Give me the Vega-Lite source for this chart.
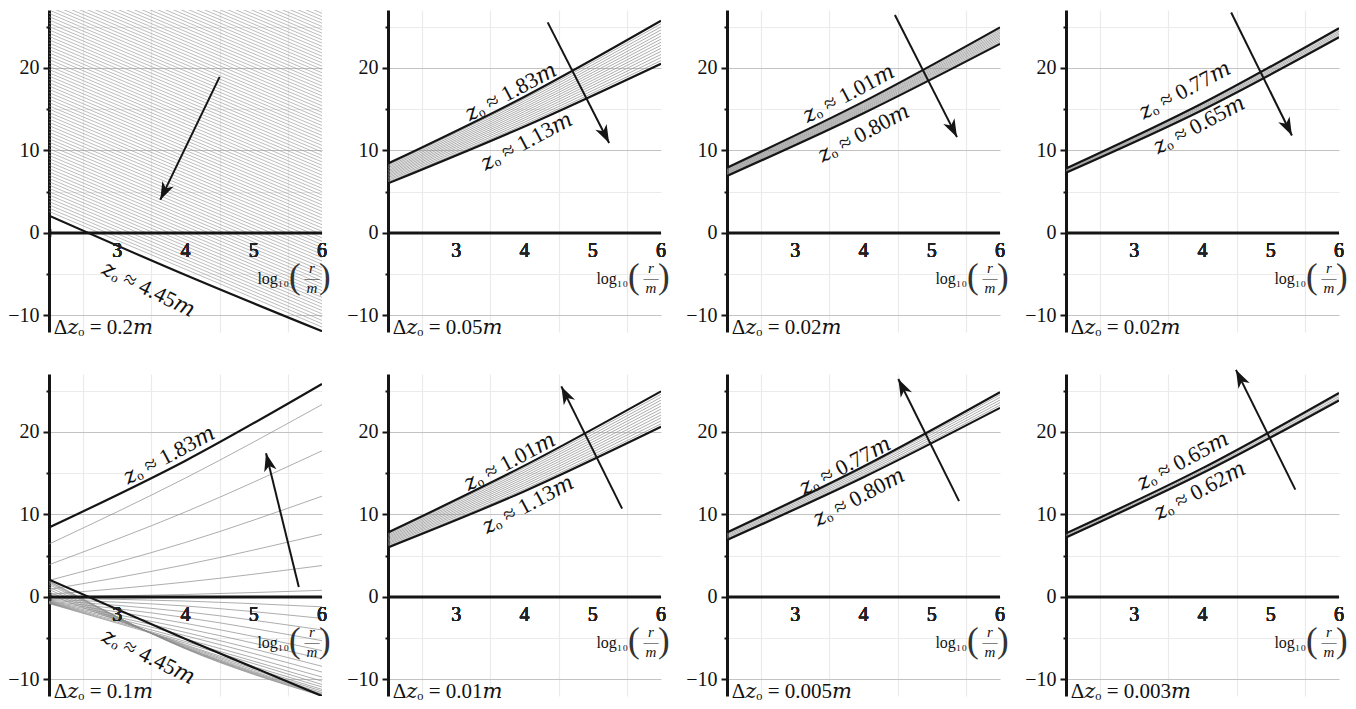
{
  "$schema": "https://vega.github.io/schema/vega-lite/v6.json",
  "background": "white",
  "padding": {"left": 7, "top": 10, "right": 5, "bottom": 5},
  "bounds": "flush",
  "columns": 4,
  "spacing": {"row": 42, "column": 66},
  "config": {
    "view": {"stroke": null},
    "font": "'Liberation Serif', 'DejaVu Serif', serif",
    "header": {"labels": false, "labelFontSize": 0, "labelPadding": 0, "labelColor": "transparent", "title": null},
    "axis": {"labelFont": "'Liberation Serif', 'DejaVu Serif', serif", "labelFontSize": 20, "labelColor": "#111"}
  },
  "data": {"values": [
    {"p":1,"kind":"bound","l":"a","x":2,"y":2.1},{"p":1,"kind":"bound","l":"a","x":4,"y":-5.1},{"p":1,"kind":"bound","l":"a","x":6,"y":-11.9},
    {"p":1,"kind":"hatch","x":2,"y":2.6,"x2":6,"y2":-11.4},{"p":1,"kind":"hatch","x":2,"y":3.0,"x2":6,"y2":-11.0},{"p":1,"kind":"hatch","x":2,"y":3.4,"x2":6,"y2":-10.6},{"p":1,"kind":"hatch","x":2,"y":3.8,"x2":6,"y2":-10.2},
    {"p":1,"kind":"hatch","x":2,"y":4.2,"x2":6,"y2":-9.8},{"p":1,"kind":"hatch","x":2,"y":4.6,"x2":6,"y2":-9.4},{"p":1,"kind":"hatch","x":2,"y":5.0,"x2":6,"y2":-9.0},{"p":1,"kind":"hatch","x":2,"y":5.4,"x2":6,"y2":-8.6},
    {"p":1,"kind":"hatch","x":2,"y":5.8,"x2":6,"y2":-8.2},{"p":1,"kind":"hatch","x":2,"y":6.2,"x2":6,"y2":-7.8},{"p":1,"kind":"hatch","x":2,"y":6.6,"x2":6,"y2":-7.4},{"p":1,"kind":"hatch","x":2,"y":7.0,"x2":6,"y2":-7.0},
    {"p":1,"kind":"hatch","x":2,"y":7.4,"x2":6,"y2":-6.6},{"p":1,"kind":"hatch","x":2,"y":7.8,"x2":6,"y2":-6.2},{"p":1,"kind":"hatch","x":2,"y":8.2,"x2":6,"y2":-5.8},{"p":1,"kind":"hatch","x":2,"y":8.6,"x2":6,"y2":-5.4},
    {"p":1,"kind":"hatch","x":2,"y":9.0,"x2":6,"y2":-5.0},{"p":1,"kind":"hatch","x":2,"y":9.4,"x2":6,"y2":-4.6},{"p":1,"kind":"hatch","x":2,"y":9.8,"x2":6,"y2":-4.2},{"p":1,"kind":"hatch","x":2,"y":10.2,"x2":6,"y2":-3.8},
    {"p":1,"kind":"hatch","x":2,"y":10.6,"x2":6,"y2":-3.4},{"p":1,"kind":"hatch","x":2,"y":11.0,"x2":6,"y2":-3.0},{"p":1,"kind":"hatch","x":2,"y":11.4,"x2":6,"y2":-2.6},{"p":1,"kind":"hatch","x":2,"y":11.8,"x2":6,"y2":-2.2},
    {"p":1,"kind":"hatch","x":2,"y":12.2,"x2":6,"y2":-1.8},{"p":1,"kind":"hatch","x":2,"y":12.6,"x2":6,"y2":-1.4},{"p":1,"kind":"hatch","x":2,"y":13.0,"x2":6,"y2":-1.0},{"p":1,"kind":"hatch","x":2,"y":13.4,"x2":6,"y2":-0.6},
    {"p":1,"kind":"hatch","x":2,"y":13.8,"x2":6,"y2":-0.2},{"p":1,"kind":"hatch","x":2,"y":14.2,"x2":6,"y2":0.2},{"p":1,"kind":"hatch","x":2,"y":14.6,"x2":6,"y2":0.6},{"p":1,"kind":"hatch","x":2,"y":15.0,"x2":6,"y2":1.0},
    {"p":1,"kind":"hatch","x":2,"y":15.4,"x2":6,"y2":1.4},{"p":1,"kind":"hatch","x":2,"y":15.8,"x2":6,"y2":1.8},{"p":1,"kind":"hatch","x":2,"y":16.2,"x2":6,"y2":2.2},{"p":1,"kind":"hatch","x":2,"y":16.6,"x2":6,"y2":2.6},
    {"p":1,"kind":"hatch","x":2,"y":17.0,"x2":6,"y2":3.0},{"p":1,"kind":"hatch","x":2,"y":17.4,"x2":6,"y2":3.4},{"p":1,"kind":"hatch","x":2,"y":17.8,"x2":6,"y2":3.8},{"p":1,"kind":"hatch","x":2,"y":18.2,"x2":6,"y2":4.2},
    {"p":1,"kind":"hatch","x":2,"y":18.6,"x2":6,"y2":4.6},{"p":1,"kind":"hatch","x":2,"y":19.0,"x2":6,"y2":5.0},{"p":1,"kind":"hatch","x":2,"y":19.4,"x2":6,"y2":5.4},{"p":1,"kind":"hatch","x":2,"y":19.8,"x2":6,"y2":5.8},
    {"p":1,"kind":"hatch","x":2,"y":20.2,"x2":6,"y2":6.2},{"p":1,"kind":"hatch","x":2,"y":20.6,"x2":6,"y2":6.6},{"p":1,"kind":"hatch","x":2,"y":21.0,"x2":6,"y2":7.0},{"p":1,"kind":"hatch","x":2,"y":21.4,"x2":6,"y2":7.4},
    {"p":1,"kind":"hatch","x":2,"y":21.8,"x2":6,"y2":7.8},{"p":1,"kind":"hatch","x":2,"y":22.2,"x2":6,"y2":8.2},{"p":1,"kind":"hatch","x":2,"y":22.6,"x2":6,"y2":8.6},{"p":1,"kind":"hatch","x":2,"y":23.0,"x2":6,"y2":9.0},
    {"p":1,"kind":"hatch","x":2,"y":23.4,"x2":6,"y2":9.4},{"p":1,"kind":"hatch","x":2,"y":23.8,"x2":6,"y2":9.8},{"p":1,"kind":"hatch","x":2,"y":24.2,"x2":6,"y2":10.2},{"p":1,"kind":"hatch","x":2,"y":24.6,"x2":6,"y2":10.6},
    {"p":1,"kind":"hatch","x":2,"y":25.0,"x2":6,"y2":11.0},{"p":1,"kind":"hatch","x":2,"y":25.4,"x2":6,"y2":11.4},{"p":1,"kind":"hatch","x":2,"y":25.8,"x2":6,"y2":11.8},{"p":1,"kind":"hatch","x":2,"y":26.2,"x2":6,"y2":12.2},
    {"p":1,"kind":"hatch","x":2,"y":26.6,"x2":6,"y2":12.6},{"p":1,"kind":"hatch","x":2,"y":27.0,"x2":6,"y2":13.0},{"p":1,"kind":"hatch","x":2,"y":27.4,"x2":6,"y2":13.4},{"p":1,"kind":"hatch","x":2,"y":27.8,"x2":6,"y2":13.8},
    {"p":1,"kind":"hatch","x":2,"y":28.2,"x2":6,"y2":14.2},{"p":1,"kind":"hatch","x":2,"y":28.6,"x2":6,"y2":14.6},{"p":1,"kind":"hatch","x":2,"y":29.0,"x2":6,"y2":15.0},{"p":1,"kind":"hatch","x":2,"y":29.4,"x2":6,"y2":15.4},
    {"p":1,"kind":"hatch","x":2,"y":29.8,"x2":6,"y2":15.8},{"p":1,"kind":"hatch","x":2,"y":30.2,"x2":6,"y2":16.2},{"p":1,"kind":"hatch","x":2,"y":30.6,"x2":6,"y2":16.6},{"p":1,"kind":"hatch","x":2,"y":31.0,"x2":6,"y2":17.0},
    {"p":1,"kind":"hatch","x":2,"y":31.4,"x2":6,"y2":17.4},{"p":1,"kind":"hatch","x":2,"y":31.8,"x2":6,"y2":17.8},{"p":1,"kind":"hatch","x":2,"y":32.2,"x2":6,"y2":18.2},{"p":1,"kind":"hatch","x":2,"y":32.6,"x2":6,"y2":18.6},
    {"p":1,"kind":"hatch","x":2,"y":33.0,"x2":6,"y2":19.0},{"p":1,"kind":"hatch","x":2,"y":33.4,"x2":6,"y2":19.4},{"p":1,"kind":"hatch","x":2,"y":33.8,"x2":6,"y2":19.8},{"p":1,"kind":"hatch","x":2,"y":34.2,"x2":6,"y2":20.2},
    {"p":1,"kind":"hatch","x":2,"y":34.6,"x2":6,"y2":20.6},{"p":1,"kind":"hatch","x":2,"y":35.0,"x2":6,"y2":21.0},{"p":1,"kind":"hatch","x":2,"y":35.4,"x2":6,"y2":21.4},{"p":1,"kind":"hatch","x":2,"y":35.8,"x2":6,"y2":21.8},
    {"p":1,"kind":"hatch","x":2,"y":36.2,"x2":6,"y2":22.2},{"p":1,"kind":"hatch","x":2,"y":36.6,"x2":6,"y2":22.6},{"p":1,"kind":"hatch","x":2,"y":37.0,"x2":6,"y2":23.0},{"p":1,"kind":"hatch","x":2,"y":37.4,"x2":6,"y2":23.4},
    {"p":1,"kind":"hatch","x":2,"y":37.8,"x2":6,"y2":23.8},{"p":1,"kind":"hatch","x":2,"y":38.2,"x2":6,"y2":24.2},{"p":1,"kind":"hatch","x":2,"y":38.6,"x2":6,"y2":24.6},{"p":1,"kind":"hatch","x":2,"y":39.0,"x2":6,"y2":25.0},
    {"p":1,"kind":"hatch","x":2,"y":39.4,"x2":6,"y2":25.4},{"p":1,"kind":"hatch","x":2,"y":39.8,"x2":6,"y2":25.8},{"p":1,"kind":"hatch","x":2,"y":40.2,"x2":6,"y2":26.2},{"p":1,"kind":"hatch","x":2,"y":40.6,"x2":6,"y2":26.6},
    {"p":1,"kind":"hatch","x":2,"y":41.0,"x2":6,"y2":27.0},
    {"p":1,"kind":"arrow","x":4.5,"y":18.9,"x2":3.63,"y2":4.0,"dir":205.6},
    {"p":1,"kind":"fall","x":3.46,"y":-6.8,"s":"𝑧ₒ ≈ 4.45𝑚"},
    {"p":1,"kind":"note","x":2.07,"y":-12.2,"s":"Δ𝑧ₒ = 0.2𝑚","xt":[2.5,3,3.5,4,4.5,5,5.5,6],"xl":[3,4,5,6]},

    {"p":2,"kind":"bound","l":"a","x":2,"y":8.4},{"p":2,"kind":"bound","l":"a","x":4,"y":16.5},{"p":2,"kind":"bound","l":"a","x":6,"y":25.7},
    {"p":2,"kind":"bound","l":"b","x":2,"y":6.0},{"p":2,"kind":"bound","l":"b","x":4,"y":12.9},{"p":2,"kind":"bound","l":"b","x":6,"y":20.5},
    {"p":2,"kind":"step","l":1,"x":2,"y":6.17},{"p":2,"kind":"step","l":1,"x":4,"y":13.16},{"p":2,"kind":"step","l":1,"x":6,"y":20.87},
    {"p":2,"kind":"step","l":2,"x":2,"y":6.34},{"p":2,"kind":"step","l":2,"x":4,"y":13.41},{"p":2,"kind":"step","l":2,"x":6,"y":21.24},
    {"p":2,"kind":"step","l":3,"x":2,"y":6.51},{"p":2,"kind":"step","l":3,"x":4,"y":13.67},{"p":2,"kind":"step","l":3,"x":6,"y":21.61},
    {"p":2,"kind":"step","l":4,"x":2,"y":6.69},{"p":2,"kind":"step","l":4,"x":4,"y":13.93},{"p":2,"kind":"step","l":4,"x":6,"y":21.99},
    {"p":2,"kind":"step","l":5,"x":2,"y":6.86},{"p":2,"kind":"step","l":5,"x":4,"y":14.19},{"p":2,"kind":"step","l":5,"x":6,"y":22.36},
    {"p":2,"kind":"step","l":6,"x":2,"y":7.03},{"p":2,"kind":"step","l":6,"x":4,"y":14.44},{"p":2,"kind":"step","l":6,"x":6,"y":22.73},
    {"p":2,"kind":"step","l":7,"x":2,"y":7.2},{"p":2,"kind":"step","l":7,"x":4,"y":14.7},{"p":2,"kind":"step","l":7,"x":6,"y":23.1},
    {"p":2,"kind":"step","l":8,"x":2,"y":7.37},{"p":2,"kind":"step","l":8,"x":4,"y":14.96},{"p":2,"kind":"step","l":8,"x":6,"y":23.47},
    {"p":2,"kind":"step","l":9,"x":2,"y":7.54},{"p":2,"kind":"step","l":9,"x":4,"y":15.21},{"p":2,"kind":"step","l":9,"x":6,"y":23.84},
    {"p":2,"kind":"step","l":10,"x":2,"y":7.71},{"p":2,"kind":"step","l":10,"x":4,"y":15.47},{"p":2,"kind":"step","l":10,"x":6,"y":24.21},
    {"p":2,"kind":"step","l":11,"x":2,"y":7.89},{"p":2,"kind":"step","l":11,"x":4,"y":15.73},{"p":2,"kind":"step","l":11,"x":6,"y":24.59},
    {"p":2,"kind":"step","l":12,"x":2,"y":8.06},{"p":2,"kind":"step","l":12,"x":4,"y":15.99},{"p":2,"kind":"step","l":12,"x":6,"y":24.96},
    {"p":2,"kind":"step","l":13,"x":2,"y":8.23},{"p":2,"kind":"step","l":13,"x":4,"y":16.24},{"p":2,"kind":"step","l":13,"x":6,"y":25.33},
    {"p":2,"kind":"arrow","x":4.34,"y":25.5,"x2":5.24,"y2":10.9,"dir":153.1},
    {"p":2,"kind":"rise","x":3.8,"y":17.1,"s":"𝑧ₒ ≈ 1.83𝑚"},
    {"p":2,"kind":"rise","x":4.03,"y":11.1,"s":"𝑧ₒ ≈ 1.13𝑚"},
    {"p":2,"kind":"note","x":2.07,"y":-12.2,"s":"Δ𝑧ₒ = 0.05𝑚","xt":[2.5,3,3.5,4,4.5,5,5.5,6],"xl":[3,4,5,6]},

    {"p":3,"kind":"bound","l":"a","x":2,"y":7.9},{"p":3,"kind":"bound","l":"a","x":4,"y":15.9},{"p":3,"kind":"bound","l":"a","x":6,"y":24.9},
    {"p":3,"kind":"bound","l":"b","x":2,"y":6.9},{"p":3,"kind":"bound","l":"b","x":4,"y":14.5},{"p":3,"kind":"bound","l":"b","x":6,"y":22.9},
    {"p":3,"kind":"step","l":1,"x":2,"y":6.99},{"p":3,"kind":"step","l":1,"x":4,"y":14.63},{"p":3,"kind":"step","l":1,"x":6,"y":23.08},
    {"p":3,"kind":"step","l":2,"x":2,"y":7.08},{"p":3,"kind":"step","l":2,"x":4,"y":14.75},{"p":3,"kind":"step","l":2,"x":6,"y":23.26},
    {"p":3,"kind":"step","l":3,"x":2,"y":7.17},{"p":3,"kind":"step","l":3,"x":4,"y":14.88},{"p":3,"kind":"step","l":3,"x":6,"y":23.45},
    {"p":3,"kind":"step","l":4,"x":2,"y":7.26},{"p":3,"kind":"step","l":4,"x":4,"y":15.01},{"p":3,"kind":"step","l":4,"x":6,"y":23.63},
    {"p":3,"kind":"step","l":5,"x":2,"y":7.35},{"p":3,"kind":"step","l":5,"x":4,"y":15.14},{"p":3,"kind":"step","l":5,"x":6,"y":23.81},
    {"p":3,"kind":"step","l":6,"x":2,"y":7.45},{"p":3,"kind":"step","l":6,"x":4,"y":15.26},{"p":3,"kind":"step","l":6,"x":6,"y":23.99},
    {"p":3,"kind":"step","l":7,"x":2,"y":7.54},{"p":3,"kind":"step","l":7,"x":4,"y":15.39},{"p":3,"kind":"step","l":7,"x":6,"y":24.17},
    {"p":3,"kind":"step","l":8,"x":2,"y":7.63},{"p":3,"kind":"step","l":8,"x":4,"y":15.52},{"p":3,"kind":"step","l":8,"x":6,"y":24.35},
    {"p":3,"kind":"step","l":9,"x":2,"y":7.72},{"p":3,"kind":"step","l":9,"x":4,"y":15.65},{"p":3,"kind":"step","l":9,"x":6,"y":24.54},
    {"p":3,"kind":"step","l":10,"x":2,"y":7.81},{"p":3,"kind":"step","l":10,"x":4,"y":15.77},{"p":3,"kind":"step","l":10,"x":6,"y":24.72},
    {"p":3,"kind":"arrow","x":4.46,"y":26.4,"x2":5.37,"y2":11.6,"dir":153.1},
    {"p":3,"kind":"rise","x":3.78,"y":16.9,"s":"𝑧ₒ ≈ 1.01𝑚"},
    {"p":3,"kind":"rise","x":4.0,"y":12.1,"s":"𝑧ₒ ≈ 0.80𝑚"},
    {"p":3,"kind":"note","x":2.07,"y":-12.2,"s":"Δ𝑧ₒ = 0.02𝑚","xt":[2.5,3,3.5,4,4.5,5,5.5,6],"xl":[3,4,5,6]},

    {"p":4,"kind":"bound","l":"a","x":2,"y":7.8},{"p":4,"kind":"bound","l":"a","x":4,"y":15.7},{"p":4,"kind":"bound","l":"a","x":6,"y":24.8},
    {"p":4,"kind":"bound","l":"b","x":2,"y":7.3},{"p":4,"kind":"bound","l":"b","x":4,"y":14.9},{"p":4,"kind":"bound","l":"b","x":6,"y":23.7},
    {"p":4,"kind":"step","l":1,"x":2,"y":7.38},{"p":4,"kind":"step","l":1,"x":4,"y":15.03},{"p":4,"kind":"step","l":1,"x":6,"y":23.88},
    {"p":4,"kind":"step","l":2,"x":2,"y":7.47},{"p":4,"kind":"step","l":2,"x":4,"y":15.17},{"p":4,"kind":"step","l":2,"x":6,"y":24.07},
    {"p":4,"kind":"step","l":3,"x":2,"y":7.55},{"p":4,"kind":"step","l":3,"x":4,"y":15.3},{"p":4,"kind":"step","l":3,"x":6,"y":24.25},
    {"p":4,"kind":"step","l":4,"x":2,"y":7.63},{"p":4,"kind":"step","l":4,"x":4,"y":15.43},{"p":4,"kind":"step","l":4,"x":6,"y":24.43},
    {"p":4,"kind":"step","l":5,"x":2,"y":7.72},{"p":4,"kind":"step","l":5,"x":4,"y":15.57},{"p":4,"kind":"step","l":5,"x":6,"y":24.62},
    {"p":4,"kind":"arrow","x":4.42,"y":26.7,"x2":5.31,"y2":11.8,"dir":153.6},
    {"p":4,"kind":"rise","x":3.74,"y":17.3,"s":"𝑧ₒ ≈ 0.77𝑚"},
    {"p":4,"kind":"rise","x":3.95,"y":13.1,"s":"𝑧ₒ ≈ 0.65𝑚"},
    {"p":4,"kind":"note","x":2.07,"y":-12.2,"s":"Δ𝑧ₒ = 0.02𝑚","xt":[2.5,3,3.5,4,4.5,5,5.5,6],"xl":[3,4,5,6]},

    {"p":5,"kind":"bound","l":"a","x":2,"y":8.4},{"p":5,"kind":"bound","l":"a","x":4,"y":16.5},{"p":5,"kind":"bound","l":"a","x":6,"y":25.8},
    {"p":5,"kind":"bound","l":"b","x":2,"y":2.1},{"p":5,"kind":"bound","l":"b","x":4,"y":-5.1},{"p":5,"kind":"bound","l":"b","x":6,"y":-12.0},
    {"p":5,"kind":"step","l":1,"x":2,"y":6.4},{"p":5,"kind":"step","l":1,"x":4,"y":14.4},{"p":5,"kind":"step","l":1,"x":6,"y":23.3},
    {"p":5,"kind":"step","l":2,"x":2,"y":3.9},{"p":5,"kind":"step","l":2,"x":4,"y":10.3},{"p":5,"kind":"step","l":2,"x":6,"y":17.7},
    {"p":5,"kind":"step","l":3,"x":2,"y":2.0},{"p":5,"kind":"step","l":3,"x":4,"y":6.6},{"p":5,"kind":"step","l":3,"x":6,"y":12.2},
    {"p":5,"kind":"step","l":4,"x":2,"y":0.9},{"p":5,"kind":"step","l":4,"x":4,"y":3.9},{"p":5,"kind":"step","l":4,"x":6,"y":7.6},
    {"p":5,"kind":"step","l":5,"x":2,"y":0.3},{"p":5,"kind":"step","l":5,"x":4,"y":1.8},{"p":5,"kind":"step","l":5,"x":6,"y":3.8},
    {"p":5,"kind":"step","l":6,"x":2,"y":0.0},{"p":5,"kind":"step","l":6,"x":4,"y":0.3},{"p":5,"kind":"step","l":6,"x":6,"y":0.8},
    {"p":5,"kind":"step","l":7,"x":2,"y":-0.15},{"p":5,"kind":"step","l":7,"x":4,"y":-0.5},{"p":5,"kind":"step","l":7,"x":6,"y":-1.2},
    {"p":5,"kind":"step","l":8,"x":2,"y":-0.3},{"p":5,"kind":"step","l":8,"x":4,"y":-1.1},{"p":5,"kind":"step","l":8,"x":6,"y":-2.6},
    {"p":5,"kind":"step","l":9,"x":2,"y":-0.4},{"p":5,"kind":"step","l":9,"x":4,"y":-1.8},{"p":5,"kind":"step","l":9,"x":6,"y":-4.0},
    {"p":5,"kind":"step","l":10,"x":2,"y":-0.5},{"p":5,"kind":"step","l":10,"x":4,"y":-2.5},{"p":5,"kind":"step","l":10,"x":6,"y":-5.3},
    {"p":5,"kind":"step","l":11,"x":2,"y":-0.55},{"p":5,"kind":"step","l":11,"x":4,"y":-3.2},{"p":5,"kind":"step","l":11,"x":6,"y":-6.5},
    {"p":5,"kind":"step","l":12,"x":2,"y":-0.6},{"p":5,"kind":"step","l":12,"x":4,"y":-3.8},{"p":5,"kind":"step","l":12,"x":6,"y":-7.5},
    {"p":5,"kind":"step","l":13,"x":2,"y":-0.65},{"p":5,"kind":"step","l":13,"x":4,"y":-4.3},{"p":5,"kind":"step","l":13,"x":6,"y":-8.4},
    {"p":5,"kind":"step","l":14,"x":2,"y":-0.7},{"p":5,"kind":"step","l":14,"x":4,"y":-4.7},{"p":5,"kind":"step","l":14,"x":6,"y":-9.1},
    {"p":5,"kind":"step","l":15,"x":2,"y":-0.72},{"p":5,"kind":"step","l":15,"x":4,"y":-5.1},{"p":5,"kind":"step","l":15,"x":6,"y":-9.7},
    {"p":5,"kind":"step","l":16,"x":2,"y":-0.75},{"p":5,"kind":"step","l":16,"x":4,"y":-5.4},{"p":5,"kind":"step","l":16,"x":6,"y":-10.2},
    {"p":5,"kind":"step","l":17,"x":2,"y":-0.8},{"p":5,"kind":"step","l":17,"x":4,"y":-5.6},{"p":5,"kind":"step","l":17,"x":6,"y":-10.6},
    {"p":5,"kind":"step","l":18,"x":2,"y":0.3},{"p":5,"kind":"step","l":18,"x":4,"y":-5.8},{"p":5,"kind":"step","l":18,"x":6,"y":-10.9},
    {"p":5,"kind":"step","l":19,"x":2,"y":0.6},{"p":5,"kind":"step","l":19,"x":4,"y":-5.9},{"p":5,"kind":"step","l":19,"x":6,"y":-11.2},
    {"p":5,"kind":"step","l":20,"x":2,"y":0.9},{"p":5,"kind":"step","l":20,"x":4,"y":-6.0},{"p":5,"kind":"step","l":20,"x":6,"y":-11.4},
    {"p":5,"kind":"step","l":21,"x":2,"y":1.2},{"p":5,"kind":"step","l":21,"x":4,"y":-6.1},{"p":5,"kind":"step","l":21,"x":6,"y":-11.6},
    {"p":5,"kind":"step","l":22,"x":2,"y":1.5},{"p":5,"kind":"step","l":22,"x":4,"y":-6.15},{"p":5,"kind":"step","l":22,"x":6,"y":-11.75},
    {"p":5,"kind":"step","l":23,"x":2,"y":1.7},{"p":5,"kind":"step","l":23,"x":4,"y":-6.2},{"p":5,"kind":"step","l":23,"x":6,"y":-11.85},
    {"p":5,"kind":"step","l":24,"x":2,"y":1.85},{"p":5,"kind":"step","l":24,"x":4,"y":-6.25},{"p":5,"kind":"step","l":24,"x":6,"y":-11.95},
    {"p":5,"kind":"step","l":25,"x":2,"y":1.95},{"p":5,"kind":"step","l":25,"x":4,"y":-6.3},{"p":5,"kind":"step","l":25,"x":6,"y":-12.0},
    {"p":5,"kind":"arrow","x":5.66,"y":1.2,"x2":5.18,"y2":17.4,"dir":346.1},
    {"p":5,"kind":"rise","x":3.76,"y":17.2,"s":"𝑧ₒ ≈ 1.83𝑚"},
    {"p":5,"kind":"fall","x":3.46,"y":-7.2,"s":"𝑧ₒ ≈ 4.45𝑚"},
    {"p":5,"kind":"note","x":2.07,"y":-12.2,"s":"Δ𝑧ₒ = 0.1𝑚","xt":[2.5,3,3.5,4,4.5,5,5.5,6],"xl":[3,4,5,6]},

    {"p":6,"kind":"bound","l":"a","x":2,"y":7.8},{"p":6,"kind":"bound","l":"a","x":4,"y":15.9},{"p":6,"kind":"bound","l":"a","x":6,"y":24.9},
    {"p":6,"kind":"bound","l":"b","x":2,"y":6.0},{"p":6,"kind":"bound","l":"b","x":4,"y":12.8},{"p":6,"kind":"bound","l":"b","x":6,"y":20.6},
    {"p":6,"kind":"step","l":1,"x":2,"y":6.15},{"p":6,"kind":"step","l":1,"x":4,"y":13.06},{"p":6,"kind":"step","l":1,"x":6,"y":20.96},
    {"p":6,"kind":"step","l":2,"x":2,"y":6.3},{"p":6,"kind":"step","l":2,"x":4,"y":13.32},{"p":6,"kind":"step","l":2,"x":6,"y":21.32},
    {"p":6,"kind":"step","l":3,"x":2,"y":6.45},{"p":6,"kind":"step","l":3,"x":4,"y":13.58},{"p":6,"kind":"step","l":3,"x":6,"y":21.68},
    {"p":6,"kind":"step","l":4,"x":2,"y":6.6},{"p":6,"kind":"step","l":4,"x":4,"y":13.83},{"p":6,"kind":"step","l":4,"x":6,"y":22.03},
    {"p":6,"kind":"step","l":5,"x":2,"y":6.75},{"p":6,"kind":"step","l":5,"x":4,"y":14.09},{"p":6,"kind":"step","l":5,"x":6,"y":22.39},
    {"p":6,"kind":"step","l":6,"x":2,"y":6.9},{"p":6,"kind":"step","l":6,"x":4,"y":14.35},{"p":6,"kind":"step","l":6,"x":6,"y":22.75},
    {"p":6,"kind":"step","l":7,"x":2,"y":7.05},{"p":6,"kind":"step","l":7,"x":4,"y":14.61},{"p":6,"kind":"step","l":7,"x":6,"y":23.11},
    {"p":6,"kind":"step","l":8,"x":2,"y":7.2},{"p":6,"kind":"step","l":8,"x":4,"y":14.87},{"p":6,"kind":"step","l":8,"x":6,"y":23.47},
    {"p":6,"kind":"step","l":9,"x":2,"y":7.35},{"p":6,"kind":"step","l":9,"x":4,"y":15.13},{"p":6,"kind":"step","l":9,"x":6,"y":23.83},
    {"p":6,"kind":"step","l":10,"x":2,"y":7.5},{"p":6,"kind":"step","l":10,"x":4,"y":15.38},{"p":6,"kind":"step","l":10,"x":6,"y":24.18},
    {"p":6,"kind":"step","l":11,"x":2,"y":7.65},{"p":6,"kind":"step","l":11,"x":4,"y":15.64},{"p":6,"kind":"step","l":11,"x":6,"y":24.54},
    {"p":6,"kind":"arrow","x":5.43,"y":10.7,"x2":4.54,"y2":25.5,"dir":333.4},
    {"p":6,"kind":"rise","x":3.78,"y":16.4,"s":"𝑧ₒ ≈ 1.01𝑚"},
    {"p":6,"kind":"rise","x":4.05,"y":11.2,"s":"𝑧ₒ ≈ 1.13𝑚"},
    {"p":6,"kind":"note","x":2.07,"y":-12.2,"s":"Δ𝑧ₒ = 0.01𝑚","xt":[2.5,3,3.5,4,4.5,5,5.5,6],"xl":[3,4,5,6]},

    {"p":7,"kind":"bound","l":"a","x":2,"y":7.8},{"p":7,"kind":"bound","l":"a","x":4,"y":15.8},{"p":7,"kind":"bound","l":"a","x":6,"y":24.8},
    {"p":7,"kind":"bound","l":"b","x":2,"y":6.9},{"p":7,"kind":"bound","l":"b","x":4,"y":14.5},{"p":7,"kind":"bound","l":"b","x":6,"y":22.9},
    {"p":7,"kind":"step","l":1,"x":2,"y":7.05},{"p":7,"kind":"step","l":1,"x":4,"y":14.72},{"p":7,"kind":"step","l":1,"x":6,"y":23.22},
    {"p":7,"kind":"step","l":2,"x":2,"y":7.2},{"p":7,"kind":"step","l":2,"x":4,"y":14.93},{"p":7,"kind":"step","l":2,"x":6,"y":23.53},
    {"p":7,"kind":"step","l":3,"x":2,"y":7.35},{"p":7,"kind":"step","l":3,"x":4,"y":15.15},{"p":7,"kind":"step","l":3,"x":6,"y":23.85},
    {"p":7,"kind":"step","l":4,"x":2,"y":7.5},{"p":7,"kind":"step","l":4,"x":4,"y":15.37},{"p":7,"kind":"step","l":4,"x":6,"y":24.17},
    {"p":7,"kind":"step","l":5,"x":2,"y":7.65},{"p":7,"kind":"step","l":5,"x":4,"y":15.58},{"p":7,"kind":"step","l":5,"x":6,"y":24.48},
    {"p":7,"kind":"arrow","x":5.4,"y":11.6,"x2":4.51,"y2":26.4,"dir":333.4},
    {"p":7,"kind":"rise","x":3.73,"y":15.9,"s":"𝑧ₒ ≈ 0.77𝑚"},
    {"p":7,"kind":"rise","x":3.93,"y":12.1,"s":"𝑧ₒ ≈ 0.80𝑚"},
    {"p":7,"kind":"note","x":2.07,"y":-12.2,"s":"Δ𝑧ₒ = 0.005𝑚","xt":[2.5,3,3.5,4,4.5,5,5.5,6],"xl":[3,4,5,6]},

    {"p":8,"kind":"bound","l":"a","x":2,"y":7.7},{"p":8,"kind":"bound","l":"a","x":4,"y":15.6},{"p":8,"kind":"bound","l":"a","x":6,"y":24.7},
    {"p":8,"kind":"bound","l":"b","x":2,"y":7.2},{"p":8,"kind":"bound","l":"b","x":4,"y":15.0},{"p":8,"kind":"bound","l":"b","x":6,"y":23.8},
    {"p":8,"kind":"step","l":1,"x":2,"y":7.33},{"p":8,"kind":"step","l":1,"x":4,"y":15.15},{"p":8,"kind":"step","l":1,"x":6,"y":24.03},
    {"p":8,"kind":"step","l":2,"x":2,"y":7.45},{"p":8,"kind":"step","l":2,"x":4,"y":15.3},{"p":8,"kind":"step","l":2,"x":6,"y":24.25},
    {"p":8,"kind":"step","l":3,"x":2,"y":7.58},{"p":8,"kind":"step","l":3,"x":4,"y":15.45},{"p":8,"kind":"step","l":3,"x":6,"y":24.48},
    {"p":8,"kind":"arrow","x":5.36,"y":13.0,"x2":4.49,"y2":27.5,"dir":333.2},
    {"p":8,"kind":"rise","x":3.71,"y":16.5,"s":"𝑧ₒ ≈ 0.65𝑚"},
    {"p":8,"kind":"rise","x":3.96,"y":12.9,"s":"𝑧ₒ ≈ 0.62𝑚"},
    {"p":8,"kind":"note","x":2.07,"y":-12.2,"s":"Δ𝑧ₒ = 0.003𝑚","xt":[2.5,3,3.5,4,4.5,5,5.5,6],"xl":[3,4,5,6]}
  ]},
  "facet": {"field": "p", "type": "ordinal", "title": null, "header": null},
  "resolve": {"axis": {"x": "independent", "y": "independent"}},
  "spec": {
    "width": 273,
    "height": 322,
    "layer": [
      {
        "transform": [{"filter": "datum.kind === 'hatch'"}],
        "mark": {"type": "rule", "clip": true, "stroke": "#8f8f8f", "strokeWidth": 0.6},
        "encoding": {
          "x": {"field": "x", "type": "quantitative", "title": null},
          "y": {"field": "y", "type": "quantitative", "title": null},
          "x2": {"field": "x2"},
          "y2": {"field": "y2"}
        }
      },
      {
        "transform": [{"filter": "datum.kind === 'step'"}],
        "mark": {"type": "line", "interpolate": "monotone", "clip": true, "stroke": "#8a8a8a", "strokeWidth": 0.7},
        "encoding": {
          "x": {"field": "x", "type": "quantitative", "title": null},
          "y": {"field": "y", "type": "quantitative", "title": null},
          "detail": {"field": "l"}
        }
      },
      {
        "transform": [{"filter": "datum.kind === 'bound'"}],
        "mark": {"type": "line", "interpolate": "monotone", "clip": true, "stroke": "#151515", "strokeWidth": 2.2},
        "encoding": {
          "x": {
            "field": "x", "type": "quantitative", "title": null,
            "scale": {"domain": [2, 6], "nice": false, "zero": false},
            "axis": {
              "values": [2.5, 3, 3.5, 4, 4.5, 5, 5.5, 6],
              "labels": false, "ticks": false, "domain": false, "title": null,
              "grid": true,
              "gridColor": {"condition": {"test": "datum.value % 1 === 0", "value": "#c3c3c3"}, "value": "#ebebeb"},
              "gridWidth": 1.2
            }
          },
          "y": {
            "field": "y", "type": "quantitative", "title": null,
            "scale": {"domain": [-12, 27], "nice": false, "zero": false},
            "axis": {
              "values": [-10, -5, 0, 5, 10, 15, 20, 25],
              "labelExpr": "datum.value % 10 === 0 ? datum.label : ''",
              "title": null,
              "grid": true,
              "gridColor": {"condition": {"test": "datum.value % 10 === 0", "value": "#c3c3c3"}, "value": "#ebebeb"},
              "gridWidth": 1.2,
              "domainColor": "#151515", "domainWidth": 3,
              "tickColor": "#151515", "tickWidth": 2,
              "tickSize": {"condition": {"test": "datum.value % 10 === 0", "value": 6}, "value": 3},
              "labelPadding": 4
            }
          },
          "detail": {"field": "l"}
        }
      },
      {
        "transform": [{"filter": "datum.kind === 'note'"}],
        "mark": {"type": "rule", "stroke": "#151515", "strokeWidth": 3},
        "encoding": {"y": {"datum": 0, "type": "quantitative"}}
      },
      {
        "transform": [{"filter": "datum.kind === 'note'"}, {"flatten": ["xt"]}],
        "mark": {"type": "tick", "orient": "vertical", "color": "#151515", "size": 8, "thickness": 2.5},
        "encoding": {
          "x": {"field": "xt", "type": "quantitative", "title": null},
          "y": {"datum": 0, "type": "quantitative"}
        }
      },
      {
        "transform": [{"filter": "datum.kind === 'note'"}, {"flatten": ["xl"]}],
        "mark": {"type": "text", "fontSize": 20, "fontWeight": 400, "fill": "#222", "baseline": "alphabetic", "dy": 24},
        "encoding": {
          "x": {"field": "xl", "type": "quantitative", "title": null},
          "y": {"datum": 0, "type": "quantitative"},
          "text": {"field": "xl", "type": "quantitative"}
        }
      },
      {
        "transform": [{"filter": "datum.kind === 'arrow'"}],
        "mark": {"type": "rule", "stroke": "#151515", "strokeWidth": 2},
        "encoding": {
          "x": {"field": "x", "type": "quantitative", "title": null},
          "y": {"field": "y", "type": "quantitative", "title": null},
          "x2": {"field": "x2"},
          "y2": {"field": "y2"}
        }
      },
      {
        "transform": [{"filter": "datum.kind === 'arrow'"}],
        "mark": {"type": "point", "shape": "M0,0L-0.7,2L0,1.45L0.7,2Z", "filled": true, "color": "#151515", "opacity": 1, "size": 324},
        "encoding": {
          "x": {"field": "x2", "type": "quantitative", "title": null},
          "y": {"field": "y2", "type": "quantitative", "title": null},
          "angle": {"field": "dir", "type": "quantitative", "scale": null}
        }
      },
      {
        "transform": [{"filter": "datum.kind === 'rise'"}],
        "mark": {"type": "text", "fontSize": 22, "color": "#111", "angle": -28, "align": "center", "baseline": "middle"},
        "encoding": {
          "x": {"field": "x", "type": "quantitative", "title": null},
          "y": {"field": "y", "type": "quantitative", "title": null},
          "text": {"field": "s"}
        }
      },
      {
        "transform": [{"filter": "datum.kind === 'fall'"}],
        "mark": {"type": "text", "fontSize": 22, "color": "#111", "angle": 26, "align": "center", "baseline": "middle"},
        "encoding": {
          "x": {"field": "x", "type": "quantitative", "title": null},
          "y": {"field": "y", "type": "quantitative", "title": null},
          "text": {"field": "s"}
        }
      },
      {
        "transform": [{"filter": "datum.kind === 'note'"}],
        "mark": {"type": "text", "fontSize": 21, "color": "#111", "align": "left", "baseline": "alphabetic"},
        "encoding": {
          "x": {"field": "x", "type": "quantitative", "title": null},
          "y": {"field": "y", "type": "quantitative", "title": null},
          "text": {"field": "s"}
        }
      },
      {
        "transform": [{"filter": "datum.kind === 'note'"}],
        "mark": {"type": "text", "fontSize": 16, "color": "#111", "align": "right", "baseline": "alphabetic", "dx": -33, "dy": 51, "text": "log₁₀"},
        "encoding": {"x": {"datum": 6, "type": "quantitative"}, "y": {"datum": 0, "type": "quantitative"}}
      },
      {
        "transform": [{"filter": "datum.kind === 'note'"}],
        "mark": {"type": "text", "fontSize": 35, "color": "#333", "align": "left", "baseline": "middle", "dx": -33, "dy": 44, "text": "("},
        "encoding": {"x": {"datum": 6, "type": "quantitative"}, "y": {"datum": 0, "type": "quantitative"}}
      },
      {
        "transform": [{"filter": "datum.kind === 'note'"}],
        "mark": {"type": "text", "fontSize": 35, "color": "#333", "align": "left", "baseline": "middle", "dx": -3, "dy": 44, "text": ")"},
        "encoding": {"x": {"datum": 6, "type": "quantitative"}, "y": {"datum": 0, "type": "quantitative"}}
      },
      {
        "transform": [{"filter": "datum.kind === 'note'"}],
        "mark": {"type": "text", "fontStyle": "italic", "fontSize": 15, "color": "#111", "align": "center", "baseline": "alphabetic", "dx": -10, "dy": 40, "text": "r"},
        "encoding": {"x": {"datum": 6, "type": "quantitative"}, "y": {"datum": 0, "type": "quantitative"}}
      },
      {
        "transform": [{"filter": "datum.kind === 'note'"}],
        "mark": {"type": "text", "fontSize": 15, "color": "#111", "align": "center", "baseline": "alphabetic", "dx": -10, "dy": 50, "text": "—"},
        "encoding": {"x": {"datum": 6, "type": "quantitative"}, "y": {"datum": 0, "type": "quantitative"}}
      },
      {
        "transform": [{"filter": "datum.kind === 'note'"}],
        "mark": {"type": "text", "fontStyle": "italic", "fontSize": 15, "color": "#111", "align": "center", "baseline": "alphabetic", "dx": -10, "dy": 60, "text": "m"},
        "encoding": {"x": {"datum": 6, "type": "quantitative"}, "y": {"datum": 0, "type": "quantitative"}}
      }
    ]
  }
}
